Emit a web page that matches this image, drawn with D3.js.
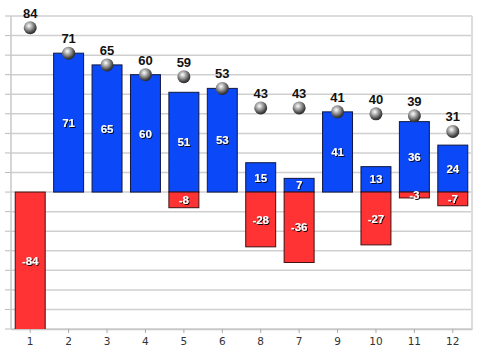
<!DOCTYPE html>
<html><head><meta charset="utf-8">
<script src="https://cdn.jsdelivr.net/npm/d3@7"></script>
<style>body{margin:0;background:#fff}svg{display:block}</style>
</head><body>
<svg id="c" width="480" height="352"></svg>
<script>
const categories = ["1","2","3","4","5","6","8","7","9","10","11","12"];
const positives = [0,71,65,60,51,53,15,7,41,13,36,24];
const negatives = [-84,0,0,0,-8,0,-28,-36,0,-27,-3,-7];
const totals = [84,71,65,60,59,53,43,43,41,40,39,31];
const yTicks = [-70,-60,-50,-40,-30,-20,-10,0,10,20,30,40,50,60,70,80,90];

const svg = d3.select("#c");
const L = 11, R = 472, T = 16, B = 329;
const x = d3.scaleBand().domain(categories).range([L, R]).paddingInner(0.22).paddingOuter(0.11);
const y = d3.scaleLinear().domain([-70, 90]).range([B, T]);

const defs = svg.append("defs");
const g = defs.append("radialGradient").attr("id","ball").attr("cx","40%").attr("cy","35%").attr("r","65%");
g.append("stop").attr("offset","0%").attr("stop-color","#ffffff");
g.append("stop").attr("offset","35%").attr("stop-color","#b0b0b0");
g.append("stop").attr("offset","80%").attr("stop-color","#4a4a4a");
g.append("stop").attr("offset","100%").attr("stop-color","#2a2a2a");
const sh = defs.append("filter").attr("id","sh").attr("x","-20%").attr("y","-20%").attr("width","140%").attr("height","140%");
sh.append("feDropShadow").attr("dx",1).attr("dy",1).attr("stdDeviation",0.3).attr("flood-color","#000").attr("flood-opacity",0.9);
defs.append("clipPath").attr("id","plot").append("rect").attr("x",L).attr("y",T).attr("width",R-L).attr("height",B-T);

// gridlines
svg.append("g").selectAll("line").data(yTicks).join("line")
  .attr("x1", L).attr("x2", R).attr("y1", d=>y(d)).attr("y2", d=>y(d))
  .attr("stroke", "#cfcfcf").attr("stroke-width", 1.5);
// left axis ticks
svg.append("g").selectAll("line").data(yTicks).join("line")
  .attr("x1", L-6).attr("x2", L).attr("y1", d=>y(d)).attr("y2", d=>y(d))
  .attr("stroke", "#bbb").attr("stroke-width", 1);
// frame sides
svg.append("line").attr("x1",L).attr("x2",L).attr("y1",T).attr("y2",B).attr("stroke","#c8c8c8").attr("stroke-width",1.5);
svg.append("line").attr("x1",R).attr("x2",R).attr("y1",T).attr("y2",B).attr("stroke","#dcdcdc").attr("stroke-width",2);

// x axis
const xa = svg.append("g").attr("transform",`translate(0,${B})`).call(d3.axisBottom(x).tickSize(4).tickSizeOuter(0));
xa.select(".domain").attr("stroke","#c8c8c8").attr("stroke-width",1.5);
xa.selectAll(".tick line").attr("stroke","#aaa");
xa.selectAll("text").attr("font-family","DejaVu Sans, sans-serif").attr("font-size",10.5).attr("fill","#333").attr("dy","0.9em");

const bars = svg.append("g").attr("clip-path","url(#plot)");
const data = categories.map((c,i)=>({c, p:positives[i], n:negatives[i], t:totals[i]}));
bars.selectAll(".pos").data(data.filter(d=>d.p>0)).join("rect")
  .attr("x", d=>x(d.c)).attr("width", x.bandwidth())
  .attr("y", d=>y(d.p)).attr("height", d=>y(0)-y(d.p))
  .attr("fill","#0a48f8").attr("stroke","#101840").attr("stroke-width",1);
bars.selectAll(".neg").data(data.filter(d=>d.n<0)).join("rect")
  .attr("x", d=>x(d.c)).attr("width", x.bandwidth())
  .attr("y", y(0)).attr("height", d=>Math.min(y(d.n),B+1)-y(0))
  .attr("fill","#ff3333").attr("stroke","#401010").attr("stroke-width",1);

const lab = svg.append("g").attr("font-family","Liberation Sans, Arial, sans-serif").attr("font-weight","bold").attr("font-size",11.5)
  .attr("fill","#fff").attr("text-anchor","middle").attr("filter","url(#sh)");
lab.selectAll(".pl").data(data.filter(d=>d.p>0)).join("text")
  .attr("x", d=>x(d.c)+x.bandwidth()/2).attr("y", d=>(y(d.p)+y(0))/2).attr("dy","0.36em").text(d=>d.p);
lab.selectAll(".nl").data(data.filter(d=>d.n<0)).join("text")
  .attr("x", d=>x(d.c)+x.bandwidth()/2).attr("y", d=>(y(0)+Math.min(y(d.n),B))/2).attr("dy","0.36em").text(d=>d.n);

// totals spheres
svg.append("g").selectAll("circle").data(data).join("circle")
  .attr("cx", d=>x(d.c)+x.bandwidth()/2).attr("cy", d=>y(d.t)).attr("r", 6.5)
  .attr("fill","url(#ball)");
svg.append("g").selectAll("text").data(data).join("text")
  .attr("x", d=>x(d.c)+x.bandwidth()/2).attr("y", d=>y(d.t)-10)
  .attr("text-anchor","middle").attr("font-family","Liberation Sans, Arial, sans-serif")
  .attr("font-weight","bold").attr("font-size",13).attr("fill","#111").text(d=>d.t);
</script>
</body></html>
